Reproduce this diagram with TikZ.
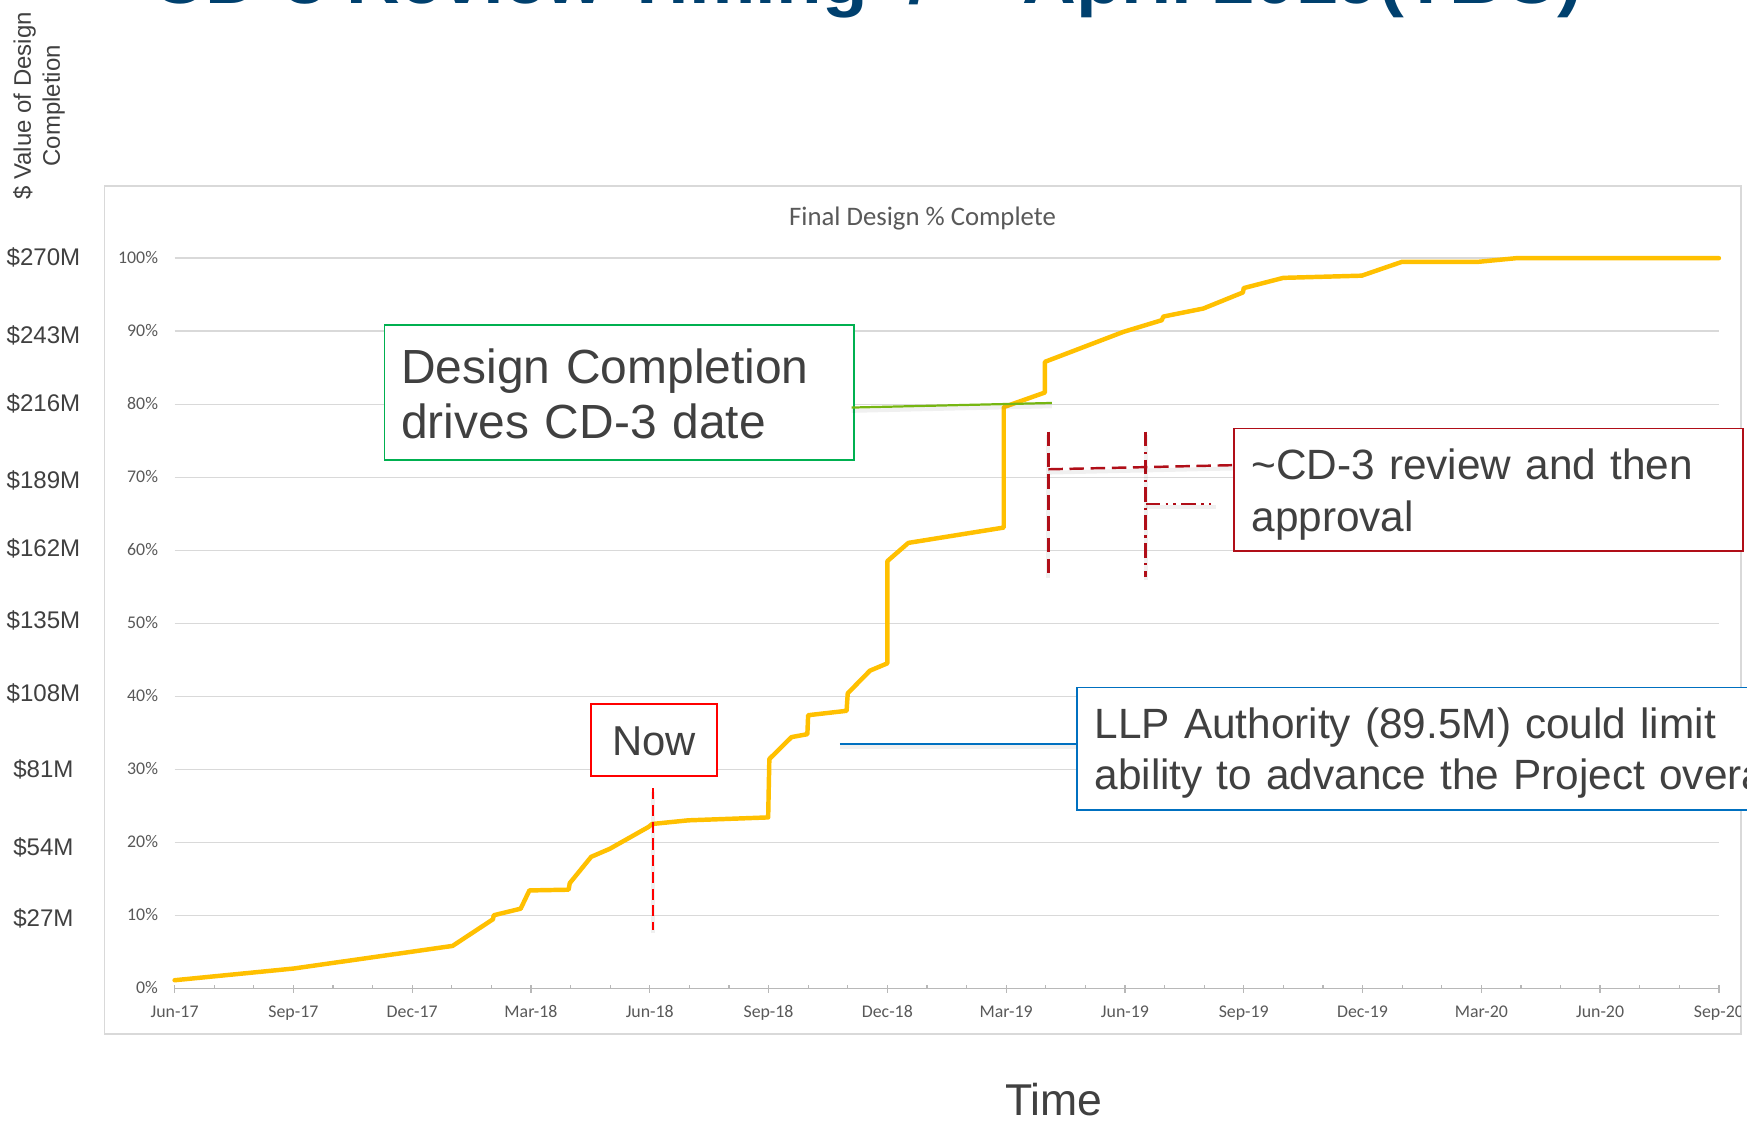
\documentclass[tikz,border=0pt]{standalone}
\usepackage{fontspec}
\setmainfont{Liberation Sans}
\newfontfamily\calibfont{Carlito}
\definecolor{titleblue}{RGB}{0,64,110}
\definecolor{txtgray}{RGB}{64,64,64}
\definecolor{axgray}{RGB}{89,89,89}
\definecolor{gridgray}{RGB}{217,217,217}
\definecolor{curveyellow}{RGB}{255,192,0}
\definecolor{boxgreen}{RGB}{0,176,80}
\definecolor{linegreen}{RGB}{118,182,18}
\definecolor{nowred}{RGB}{255,0,0}
\definecolor{darkred}{RGB}{176,14,24}
\definecolor{llpblue}{RGB}{0,112,192}
\tikzset{
  gridline/.style={draw=gridgray, line width=1.2pt},
  curveline/.style={draw=curveyellow, line width=4pt, line join=round, line cap=round},
  callout/.style={fill=white, line width=1.6pt, inner ysep=0pt, align=left, anchor=north west, text=txtgray},
  cshadow/.style={preaction={draw=black, draw opacity=0.06, line width=3.5pt, transform canvas={yshift=-3pt}}},
  xlab/.style={font=\calibfont\fontsize{16pt}{18pt}\selectfont, text=axgray, inner sep=0pt, anchor=base},
  plab/.style={font=\calibfont\fontsize{16pt}{18pt}\selectfont, text=axgray, inner sep=0pt, anchor=base east},
  dlab/.style={font=\fontsize{21.6pt}{26pt}\selectfont, text=txtgray, inner sep=0pt, anchor=base},
  nowline/.style={cshadow, draw=nowred, line width=2.4pt, dash pattern=on 10pt off 5pt},
  greenline/.style={cshadow, draw=linegreen, line width=2pt},
  blueline/.style={cshadow, draw=llpblue, line width=2pt},
  redlong/.style={cshadow, draw=darkred, line width=2.2pt, dash pattern=on 13pt off 6pt},
  reddashdot/.style={cshadow, draw=darkred, line width=2.2pt, dash pattern=on 13pt off 5pt on 2pt off 5pt},
  reddashdotdot/.style={cshadow, draw=darkred, line width=2.2pt, dash pattern=on 13pt off 5pt on 2pt off 5pt on 2pt off 5pt},
}
\begin{document}
\begin{tikzpicture}[x=1pt,y=-1pt]
\useasboundingbox (0,0) rectangle (1568,1008);
\fill[white] (0,0) rectangle (1568,1008);

% title (cut by the top edge)
\node[anchor=base west, xscale=1.08, inner sep=0pt, text=titleblue,
      font=\bfseries\fontsize{62pt}{70pt}\selectfont] (title) at (136,3.5)
  {CD-3 Review Timing\hspace{0.55em}/\hspace{1.25em}April 2019(TBC)};

% rotated axis title
\node[rotate=90, align=center, text=txtgray, inner sep=0pt,
      font=\fontsize{21.5pt}{26pt}\selectfont] (ytitle) at (35,95)
  {\$ Value of Design\\Completion};

% dollar labels
\foreach \yy/\lab in {231/270,301/243,362/216,431/189,492/162,556/135,622/108,690/81,760/54,824/27}
  \node[dlab] (d\lab) at (39,\yy+7.7) {\$\lab M};

% chart frame
\draw[draw=gridgray, line width=1.2pt] (94,167) rectangle (1562.5,928);
\node[font=\calibfont\fontsize{24pt}{28pt}\selectfont, text=axgray, inner sep=0pt, anchor=base]
  (ctitle) at (828,202.7) {Final Design \% Complete};

\begin{scope}[shift={(156.7pt,-887pt)}, x=35.54pt, y=6.553pt]
  \foreach \p in {1,...,10}
    \draw[gridline] (0,\p*10) -- (39,\p*10);
  \draw[draw=gridgray!85!black, line width=1.2pt] (0,0) -- (39,0);
  \foreach \m in {0,...,39}
    \draw[draw=gridgray!85!black, line width=1.1pt] (\m,0) -- ++(0,0.46);
  \foreach \m in {0,3,...,39}
    \draw[draw=gridgray!85!black, line width=1.1pt] (\m,0) -- ++(0,-0.69);
  \foreach \p in {0,...,10}
    \node[plab, xshift=-14.7pt, yshift=-5pt] (p\p) at (0,\p*10) {\the\numexpr\p*10\relax\%};
  \foreach \m/\lab in {0/Jun-17,3/Sep-17,6/Dec-17,9/Mar-18,12/Jun-18,15/Sep-18,18/Dec-18,21/Mar-19,24/Jun-19,27/Sep-19,30/Dec-19,33/Mar-20,36/Jun-20}
    \node[xlab, yshift=-26.5pt] (x\m) at (\m,0) {\lab};
  \begin{scope}
    \clip (-3,-10) rectangle (39.54,5);
    \node[xlab, yshift=-26.5pt] (x39) at (39,0) {Sep-20};
  \end{scope}
  \draw[curveline] plot coordinates {(0,1.1) (3,2.7) (7.02,5.8) (8.04,9.45) (8.06,10.0) (8.74,10.9)
    (8.96,13.4) (9.95,13.5) (9.98,14.4) (10.52,18.0) (10.99,19.1) (11.97,22.1) (12.06,22.5)
    (12.97,23.0) (14.99,23.4) (15.02,31.4) (15.58,34.4) (15.98,34.8) (16.0,37.4) (16.97,38.0)
    (17.0,40.4) (17.56,43.5) (18.0,44.5) (18.0,58.5) (18.53,61.0) (20.94,63.1) (20.94,79.6)
    (21.98,81.6) (21.98,85.8) (23.96,89.9) (24.93,91.5) (24.97,92.0) (25.98,93.1) (26.98,95.3)
    (27.0,95.9) (28.0,97.3) (29.98,97.6) (31.0,99.5) (32.93,99.5) (33.89,100) (39,100)};
\end{scope}

% callout boxes
\node[callout, draw=boxgreen, inner xsep=15pt, text width=391.4pt, text height=52pt, text depth=69pt,
      font=\fontsize{43pt}{50pt}\selectfont] (gbox) at (344.3,291)
  {Design Completion\\drives CD-3 date};
\node[callout, draw=nowred, inner xsep=0pt, text width=113pt, align=center, text height=46.4pt, text depth=18pt,
      font=\fontsize{37.5pt}{44pt}\selectfont] (nowbox) at (529.8,631.2) {Now};
\node[callout, draw=darkred, inner xsep=15.5pt, text width=425.3pt, text height=46.2pt, text depth=63.6pt,
      font=\fontsize{38pt}{46pt}\selectfont] (rbox) at (1107,383.8)
  {\textasciitilde CD-3 review and then\\approval};
\node[callout, draw=llpblue, inner xsep=16pt, text width=720pt, text height=45.7pt, text depth=64pt,
      font=\fontsize{38pt}{46pt}\selectfont] (llpbox) at (965.7,616.3)
  {LLP Authority (89.5M) could limit\\ability to advance the Project overall};

% connectors
\coordinate (greenend) at (944,361.7);
\draw[greenline] ([xshift=-3pt,yshift=-13.5pt]gbox.east) -- (greenend);

\coordinate (llpstart) at (753.9,667.5);
\draw[blueline] (llpstart) -- (llpstart -| llpbox.west);

\coordinate (nowtop) at (586,707.5);
\coordinate (nowbot) at (586,834.7);
\draw[nowline] (nowtop) -- (nowbot);

\coordinate (r1top) at (940.9,387.5);
\coordinate (r1bot) at (940.9,516);
\coordinate (r2top) at (1028.2,387.5);
\coordinate (r2bot) at (1028.2,518);
\coordinate (r1mid) at (940.9,421.2);
\coordinate (r2mid) at (1028.2,452.3);
\coordinate (r2end) at (1091.4,452.3);
\draw[redlong] (r1top) -- (r1bot);
\draw[reddashdot] (r2top) -- (r2bot);
\draw[redlong] (r1mid) -- ([yshift=22pt]rbox.west);
\draw[reddashdotdot] (r2mid) -- (r2end);

% axis caption
\node[anchor=base, inner sep=0pt, text=txtgray, font=\fontsize{40pt}{46pt}\selectfont] (time) at (946,1001) {Time};
\end{tikzpicture}
\end{document}
